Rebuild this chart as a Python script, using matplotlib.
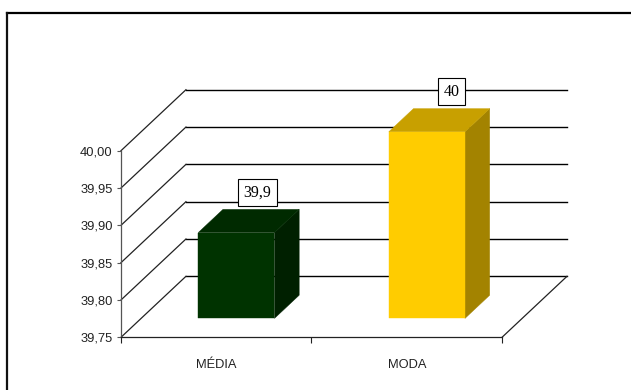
import matplotlib
matplotlib.use("Agg")
import matplotlib.pyplot as plt
from matplotlib.patches import Polygon
from matplotlib.lines import Line2D
import numpy as np

# data
categories = ["MÉDIA", "MODA"]
values = [39.865, 40.0]
data_labels = ["39,9", "40"]
yticks = [39.75, 39.80, 39.85, 39.90, 39.95, 40.00]

front_cols = ["#003300", "#FFCC00"]
top_cols = ["#002A00", "#C8A000"]
side_cols = ["#002000", "#A38300"]

# fake 3d depth offset (data units) and bar placement inside a category
DX, DY = 0.341, 0.0817
d0, d1 = 0.31, 0.69      # bar front / back depth fraction
bw = 0.4                 # bar width in category units
ymin = yticks[0]

plt.rcParams['font.family'] = ['Liberation Sans', 'DejaVu Sans']

fig = plt.figure(figsize=(6.31, 3.90), dpi=100)
ax = fig.add_axes([0, 0, 1, 1])
ax.set_xlim(-0.635, 2.677)
ax.set_ylim(39.6794, 40.2019)

# back wall grid lines + left wall diagonals
for v in yticks:
    ax.plot([DX, len(categories) + DX], [v + DY, v + DY], color="black", lw=1.0, zorder=1)
    ax.plot([0, DX], [v, v + DY], color="#222222", lw=0.9, zorder=1)
# floor right edge
ax.plot([len(categories), len(categories) + DX], [ymin, ymin + DY], color="#222222", lw=0.9, zorder=1)

# bars
for i, (v, fc, tc, sc) in enumerate(zip(values, front_cols, top_cols, side_cols)):
    x0 = i + 0.5 - bw / 2
    x1 = i + 0.5 + bw / 2
    fx, fy = DX * d0, DY * d0
    bx, by = DX * d1, DY * d1
    front = [(x0 + fx, ymin + fy), (x1 + fx, ymin + fy), (x1 + fx, v + fy), (x0 + fx, v + fy)]
    top = [(x0 + fx, v + fy), (x1 + fx, v + fy), (x1 + bx, v + by), (x0 + bx, v + by)]
    side = [(x1 + fx, ymin + fy), (x1 + bx, ymin + by), (x1 + bx, v + by), (x1 + fx, v + fy)]
    ax.add_patch(Polygon(side, closed=True, fc=sc, ec=sc, lw=0.3, zorder=3))
    ax.add_patch(Polygon(top, closed=True, fc=tc, ec=tc, lw=0.3, zorder=3))
    ax.add_patch(Polygon(front, closed=True, fc=fc, ec=fc, lw=0.3, zorder=4))
    ax.annotate(data_labels[i], xy=(i + 0.5 + bx - 0.02 * (i == 0), v + by),
                xytext=(0, 9), textcoords="offset pixels",
                ha="center", va="bottom", fontsize=11.5,
                family=["Liberation Serif", "DejaVu Serif"], zorder=6,
                bbox=dict(boxstyle="square,pad=0.36", fc="white", ec="black", lw=0.8))

# axes / ticks
for s in ["top", "right"]:
    ax.spines[s].set_visible(False)
ax.spines["left"].set_position(("data", 0))
ax.spines["left"].set_bounds(yticks[0], yticks[-1])
ax.spines["left"].set_color("#555555")
ax.spines["left"].set_linewidth(0.9)
ax.spines["bottom"].set_position(("data", ymin))
ax.spines["bottom"].set_bounds(0, len(categories))
ax.spines["bottom"].set_color("#222222")
ax.spines["bottom"].set_linewidth(0.9)
ax.spines["left"].set_zorder(2)
ax.spines["bottom"].set_zorder(2)

ax.set_yticks(yticks)
ax.set_yticklabels([f"{t:.2f}".replace(".", ",") for t in yticks])
ax.tick_params(axis="y", direction="out", length=3, width=0.8, color="#555555",
               labelsize=9.3, labelcolor="#222222", pad=3)

ax.set_xticks(np.arange(len(categories) + 1))
ax.set_xticklabels([])
ax.set_xticks(np.arange(len(categories)) + 0.5, minor=True)
ax.set_xticklabels(categories, minor=True)
ax.tick_params(axis="x", which="major", direction="out", length=4, width=0.8, color="#222222")
ax.tick_params(axis="x", which="minor", length=0, pad=15.5, labelsize=9.3, labelcolor="#222222")

# outer frame (top and left edges)
fig.add_artist(Line2D([7 / 631, 1], [1 - 13 / 390, 1 - 13 / 390], color="black", lw=1.6,
                      transform=fig.transFigure))
fig.add_artist(Line2D([7 / 631, 7 / 631], [0, 1 - 13 / 390], color="#111111", lw=1.6,
                      transform=fig.transFigure))

fig.savefig("out.png", dpi=100)
